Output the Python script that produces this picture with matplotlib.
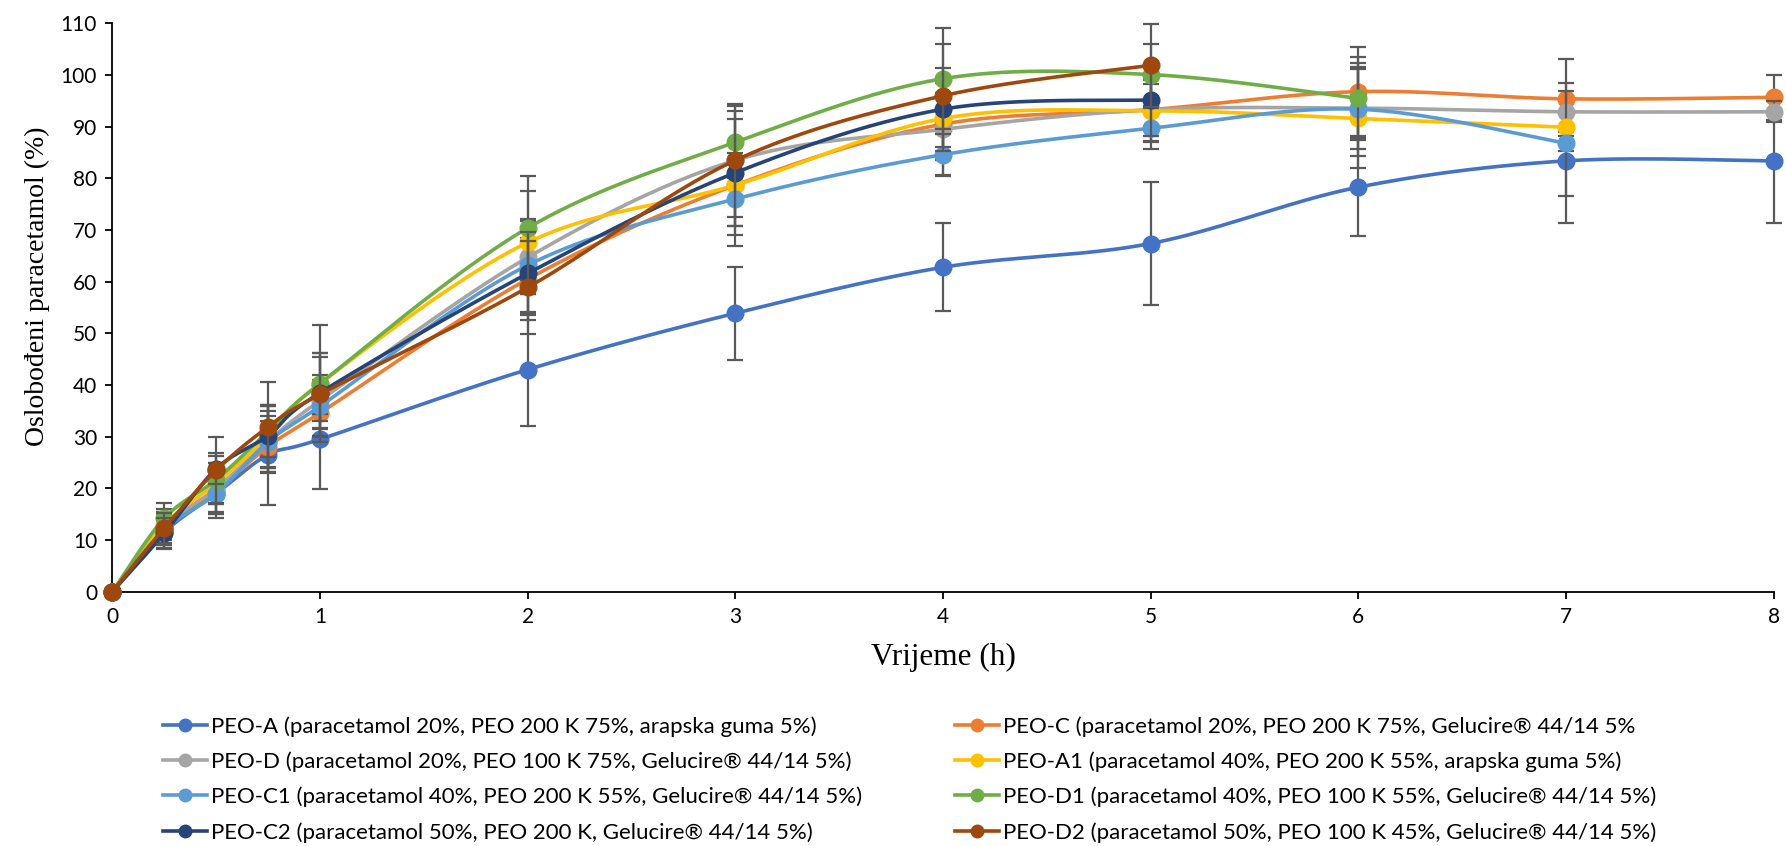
import matplotlib
matplotlib.use('Agg')
import matplotlib.pyplot as plt
import numpy as np

# vrijeme uzorkovanja (h)
t_all = [0, 0.25, 0.5, 0.75, 1, 2, 3, 4, 5, 6, 7, 8]

names = [
    'PEO-A (paracetamol 20%, PEO 200 K 75%, arapska guma 5%)',
    'PEO-C (paracetamol 20%, PEO 200 K 75%, Gelucire® 44/14 5%',
    'PEO-D (paracetamol 20%, PEO 100 K 75%, Gelucire® 44/14 5%)',
    'PEO-A1 (paracetamol 40%, PEO 200 K 55%, arapska guma 5%)',
    'PEO-C1 (paracetamol 40%, PEO 200 K 55%, Gelucire® 44/14 5%)',
    'PEO-D1 (paracetamol 40%, PEO 100 K 55%, Gelucire® 44/14 5%)',
    'PEO-C2 (paracetamol 50%, PEO 200 K, Gelucire® 44/14 5%)',
    'PEO-D2 (paracetamol 50%, PEO 100 K 45%, Gelucire® 44/14 5%)',
]

peo_a = [0, 11.5, 19.0, 26.5, 29.5, 43.0, 53.9, 62.8, 67.4, 78.3, 83.4, 83.4]
peo_a_sd = [0, 3, 4, 9.7, 9.7, 10.9, 9.0, 8.5, 12.0, 9.5, 12.0, 12.0]
peo_c = [0, 12.0, 19.5, 28.1, 34.6, 60.5, 78.7, 90.5, 93.3, 96.8, 95.4, 95.7]
peo_c_sd = [0, 3.5, 4, 5, 3, 8, 8, 6, 6, 8.6, 3, 4.3]
peo_d = [0, 12.5, 20.0, 29.0, 37.0, 64.7, 83.5, 89.5, 93.3, 93.6, 92.9, 92.9]
peo_d_sd = [0, 3, 5, 5, 4, 7, 8, 9, 5, 8, 4, 2]
peo_a1 = [0, 13.0, 21.0, 30.0, 40.3, 67.6, 78.7, 91.6, 93.1, 91.6, 89.9]
peo_a1_sd = [0, 3, 4, 6, 6, 10, 8, 8, 6, 9.5, 13.3]
peo_c1 = [0, 12.0, 19.0, 29.0, 35.9, 63.2, 76.0, 84.6, 89.7, 93.4, 86.8]
peo_c1_sd = [0, 3, 4.7, 6, 6, 9, 9, 4, 4, 9, 1.5]
peo_d1 = [0, 14.2, 21.7, 31.0, 40.3, 70.4, 87.0, 99.3, 100.1, 95.5]
peo_d1_sd = [0, 3, 4.5, 5, 11.3, 10, 7, 9.8, 6, 8]
peo_c2 = [0, 11.3, 23.8, 30.2, 38.5, 61.6, 81.1, 93.4, 95.2]
peo_c2_sd = [0, 3, 3, 6, 7, 8, 12, 8, 7]
peo_d2 = [0, 12.3, 23.5, 31.9, 38.2, 58.9, 83.5, 96.0, 101.9]
peo_d2_sd = [0, 3, 6.5, 8.7, 8, 9, 11, 10, 8]

series = [
    (peo_a, peo_a_sd, '#4472C4'),
    (peo_c, peo_c_sd, '#ED7D31'),
    (peo_d, peo_d_sd, '#A5A5A5'),
    (peo_a1, peo_a1_sd, '#FFC000'),
    (peo_c1, peo_c1_sd, '#5B9BD5'),
    (peo_d1, peo_d1_sd, '#70AD47'),
    (peo_c2, peo_c2_sd, '#264478'),
    (peo_d2, peo_d2_sd, '#9E480E'),
]


def smooth(x, y, n=40):
    # Bezier smoothing like Excel's "smoothed line"
    pts = np.column_stack([x, y]).astype(float)
    out = [pts[0]]
    s = np.linspace(0, 1, n)[1:, None]
    for i in range(len(pts) - 1):
        p0 = pts[i - 1] if i > 0 else pts[i]
        p1, p2 = pts[i], pts[i + 1]
        p3 = pts[i + 2] if i + 2 < len(pts) else pts[i + 1]
        c1 = p1 + (p2 - p0) / 6
        c2 = p2 - (p3 - p1) / 6
        seg = (1 - s) ** 3 * p1 + 3 * (1 - s) ** 2 * s * c1 + 3 * (1 - s) * s ** 2 * c2 + s ** 3 * p2
        out.extend(seg)
    out = np.array(out)
    return out[:, 0], out[:, 1]


fig = plt.figure(figsize=(17.86, 8.46), dpi=100)
ax = fig.add_axes([0.0629, 0.3006, 0.9302, 0.6717])

handles = []
for i, (vals, sd, col) in enumerate(series):
    x = np.array(t_all[:len(vals)])
    y = np.array(vals)
    e = np.array(sd)
    m = e > 0
    ax.errorbar(x[m], y[m], yerr=e[m], fmt='none', ecolor='#595959',
                elinewidth=1.6, capsize=5.5, capthick=1.6, zorder=2 + 2 * i, clip_on=False)
    xs, ys = smooth(x, y)
    ax.plot(xs, ys, color=col, linewidth=2.6, zorder=3 + 2 * i, clip_on=False)
    ax.plot(x, y, 'o', color=col, markersize=12, zorder=3 + 2 * i, clip_on=False)
    h, = ax.plot([], [], color=col, linewidth=2.6, marker='o', markersize=9)
    handles.append(h)

ax.set_xlim(0, 8)
ax.set_ylim(0, 110)
ax.set_xticks(range(0, 9))
ax.set_yticks(range(0, 111, 10))
for sp in ['top', 'right']:
    ax.spines[sp].set_visible(False)
for sp in ['left', 'bottom']:
    ax.spines[sp].set_linewidth(1.3)
ax.tick_params(direction='out', length=5, width=1.3, labelsize=15, pad=6)
for lab in ax.get_xticklabels() + ax.get_yticklabels():
    lab.set_family('Lato')

ax.set_xlabel('Vrijeme (h)', family='Liberation Serif', fontsize=22.5)
ax.set_ylabel('Oslobođeni paracetamol (%)', family='Liberation Serif', fontsize=20)
ax.xaxis.set_label_coords(0.5, -0.09)
ax.yaxis.set_label_coords(-0.0375, 0.538)

# legenda u dva stupca ispod grafa
leg_font = {'family': 'Lato', 'size': 16}
col1 = [0, 2, 4, 6]
col2 = [1, 3, 5, 7]
for idx, xpos in [(col1, 0.0865), (col2, 0.530)]:
    fig.legend([handles[k] for k in idx], [names[k] for k in idx],
               loc='upper left', bbox_to_anchor=(xpos, 0.164),
               frameon=False, prop=leg_font, handlelength=1.95,
               handletextpad=0.2, labelspacing=0.66, borderaxespad=0)

fig.savefig('out.png', dpi=100)
